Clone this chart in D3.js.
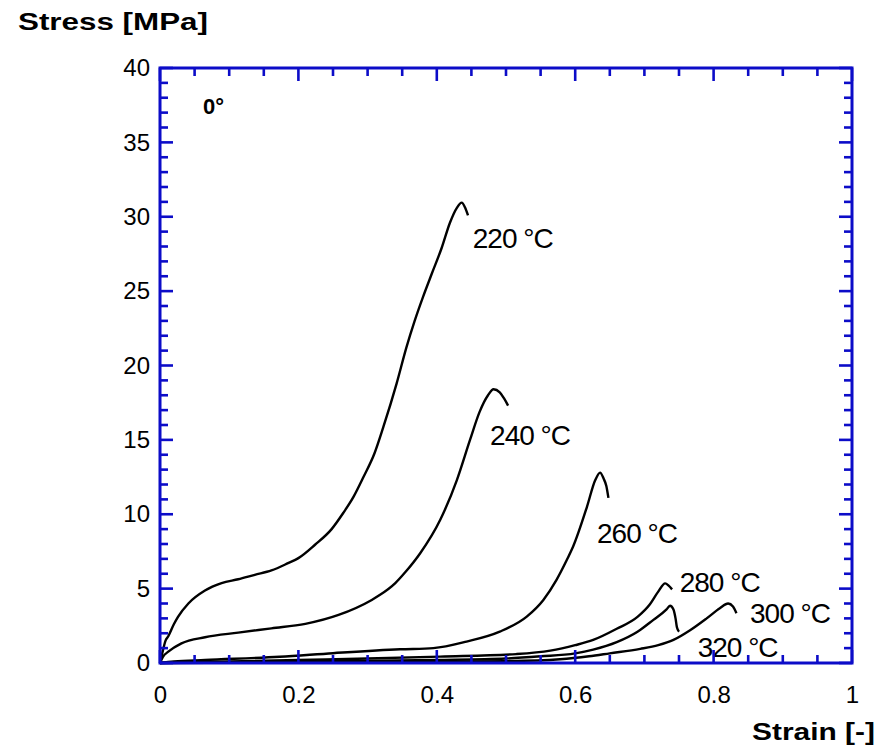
<!DOCTYPE html>
<html>
<head>
<meta charset="utf-8">
<script src="https://cdn.jsdelivr.net/npm/d3@7"></script>
<style>
  body { margin: 0; background: #fff; }
  svg { display: block; }
  text { font-family: "Liberation Sans", Arial, sans-serif; fill: #000; }
</style>
</head>
<body>
<svg width="895" height="754"></svg>
<script>
(function () {
  'use strict';

  // curve data: strain [-] / stress [MPa]
  var strain220 = [0, 0.004, 0.008, 0.012, 0.02, 0.026, 0.041, 0.065, 0.089, 0.113, 0.137, 0.161, 0.185, 0.2, 0.224, 0.248, 0.265, 0.28, 0.294, 0.31, 0.323, 0.342, 0.356, 0.368, 0.38, 0.393, 0.407, 0.419, 0.429, 0.436, 0.441, 0.445];
  var stress220 = [0, 0.8, 1.5, 1.8, 2.6, 3.1, 4.0, 4.87, 5.37, 5.63, 5.93, 6.22, 6.71, 7.05, 7.95, 9.0, 10.1, 11.2, 12.5, 14.1, 15.9, 18.8, 21.2, 23.0, 24.6, 26.2, 27.9, 29.6, 30.6, 30.95, 30.6, 30.1];

  var strain240 = [0, 0.004, 0.012, 0.031, 0.065, 0.113, 0.161, 0.21, 0.258, 0.306, 0.318, 0.34, 0.354, 0.376, 0.405, 0.429, 0.448, 0.462, 0.474, 0.482, 0.491, 0.497, 0.503];
  var stress240 = [0, 0.4, 0.76, 1.32, 1.73, 2.04, 2.33, 2.63, 3.23, 4.24, 4.58, 5.37, 6.08, 7.38, 9.63, 12.3, 15.0, 16.9, 18.0, 18.4, 18.2, 17.8, 17.3];

  var strain260 = [0, 0.02, 0.065, 0.173, 0.25, 0.347, 0.395, 0.443, 0.491, 0.53, 0.554, 0.573, 0.588, 0.597, 0.617, 0.629, 0.636, 0.641, 0.645, 0.648];
  var stress260 = [0, 0.1, 0.2, 0.42, 0.66, 0.92, 1.0, 1.44, 2.11, 3.12, 4.24, 5.59, 6.94, 7.83, 10.5, 12.3, 12.8, 12.4, 11.9, 11.1];

  var strain280 = [0, 0.1, 0.2, 0.3, 0.405, 0.515, 0.564, 0.6, 0.626, 0.66, 0.69, 0.708, 0.72, 0.73, 0.735, 0.74];
  var stress280 = [0, 0.1, 0.2, 0.3, 0.43, 0.6, 0.83, 1.2, 1.55, 2.3, 3.1, 3.95, 4.8, 5.35, 5.2, 4.95];

  var strain300 = [0, 0.3, 0.5, 0.578, 0.62, 0.65, 0.694, 0.72, 0.742, 0.766, 0.79, 0.809, 0.821, 0.828, 0.833];
  var stress300 = [0, 0.05, 0.12, 0.25, 0.45, 0.65, 0.95, 1.2, 1.55, 2.2, 3.0, 3.68, 4.0, 3.8, 3.35];

  var strain320 = [0, 0.2, 0.4, 0.5, 0.55, 0.6, 0.626, 0.66, 0.69, 0.713, 0.732, 0.737, 0.742, 0.745, 0.747, 0.75];
  var stress320 = [0, 0.1, 0.2, 0.3, 0.45, 0.65, 0.9, 1.4, 2.1, 2.9, 3.6, 3.85, 3.6, 3.0, 2.4, 2.1];

  var curveLabels = ['220 °C', '240 °C', '260 °C', '280 °C', '300 °C', '320 °C'];
  // label anchors in data units (strain, stress)
  var labelStrain = [0.452, 0.477, 0.6315, 0.751, 0.8526, 0.777];
  var labelStress = [27.88, 14.68, 8.08, 4.78, 2.69, 0.4];

  var xTicks = [0, 0.2, 0.4, 0.6, 0.8, 1];
  var yTicks = [0, 5, 10, 15, 20, 25, 30, 35, 40];

  var series = [
    { strain: strain220, stress: stress220 },
    { strain: strain240, stress: stress240 },
    { strain: strain260, stress: stress260 },
    { strain: strain280, stress: stress280 },
    { strain: strain300, stress: stress300 },
    { strain: strain320, stress: stress320 }
  ].map(function (s, i) {
    return {
      label: curveLabels[i],
      lx: labelStrain[i], ly: labelStress[i],
      points: s.strain.map(function (x, j) { return [x, s.stress[j]]; })
    };
  });

  var blue = '#0c0cc8';
  var svg = d3.select('svg');

  var x = d3.scaleLinear().domain([0, 1]).range([160, 852]);
  var y = d3.scaleLinear().domain([0, 40]).range([663, 68]);

  var line = d3.line()
    .x(function (d) { return x(d[0]); })
    .y(function (d) { return y(d[1]); })
    .curve(d3.curveMonotoneX);

  // curves
  svg.append('g').selectAll('path').data(series)
    .enter().append('path')
      .attr('d', function (d) { return line(d.points); })
      .attr('fill', 'none')
      .attr('stroke', '#000')
      .attr('stroke-width', 2.4)
      .attr('stroke-linejoin', 'round');

  svg.append('g').selectAll('text').data(series)
    .enter().append('text')
      .attr('x', function (d) { return x(d.lx); })
      .attr('y', function (d) { return y(d.ly); })
      .attr('font-size', 28)
      .attr('letter-spacing', -1)
      .text(function (d) { return d.label; });

  // ticks: inward on all four sides
  var minorX = d3.range(0, 1.0001, 0.05);
  var minorY = d3.range(0, 40.0001, 1);
  var isMajorX = function (v) { return Math.abs(v * 5 - Math.round(v * 5)) < 1e-6; };
  var isMajorY = function (v) { return v % 5 === 0; };

  var ticks = svg.append('g').attr('stroke', blue).attr('stroke-width', 2.6);

  minorX.forEach(function (v) {
    var len = isMajorX(v) ? 13 : 8;
    ticks.append('line').attr('x1', x(v)).attr('x2', x(v)).attr('y1', y(0)).attr('y2', y(0) - len);
    ticks.append('line').attr('x1', x(v)).attr('x2', x(v)).attr('y1', y(40)).attr('y2', y(40) + len);
  });
  minorY.forEach(function (v) {
    var len = isMajorY(v) ? 13 : 8;
    ticks.append('line').attr('x1', x(0)).attr('x2', x(0) + len).attr('y1', y(v)).attr('y2', y(v));
    ticks.append('line').attr('x1', x(1)).attr('x2', x(1) - len).attr('y1', y(v)).attr('y2', y(v));
  });

  // frame
  svg.append('rect')
    .attr('x', x(0)).attr('y', y(40))
    .attr('width', x(1) - x(0)).attr('height', y(0) - y(40))
    .attr('fill', 'none').attr('stroke', blue).attr('stroke-width', 3);

  // tick labels
  var gx = svg.append('g').attr('transform', 'translate(0,' + y(0) + ')')
    .call(d3.axisBottom(x).tickValues(xTicks).tickSize(0).tickPadding(23)
      .tickFormat(function (d) { return d === 0 || d === 1 ? String(d) : d3.format('.1f')(d); }));
  gx.select('.domain').remove();
  gx.selectAll('text').attr('font-size', 24).attr('font-family', '"Liberation Sans", Arial, sans-serif').attr('fill', '#000');

  var gy = svg.append('g').attr('transform', 'translate(' + x(0) + ',0)')
    .call(d3.axisLeft(y).tickValues(yTicks).tickSize(0).tickPadding(10));
  gy.select('.domain').remove();
  gy.selectAll('text').attr('font-size', 24).attr('font-family', '"Liberation Sans", Arial, sans-serif').attr('fill', '#000');

  // titles
  svg.append('text')
    .attr('x', 18).attr('y', 30)
    .attr('font-size', 24).attr('font-weight', 'bold')
    .attr('textLength', 190).attr('lengthAdjust', 'spacingAndGlyphs')
    .text('Stress [MPa]');

  svg.append('text')
    .attr('x', 752).attr('y', 740)
    .attr('font-size', 24).attr('font-weight', 'bold')
    .attr('textLength', 123).attr('lengthAdjust', 'spacingAndGlyphs')
    .text('Strain [-]');

  svg.append('text')
    .attr('x', 203).attr('y', 114)
    .attr('font-size', 22).attr('font-weight', 'bold')
    .text('0°');
}());
</script>
</body>
</html>
